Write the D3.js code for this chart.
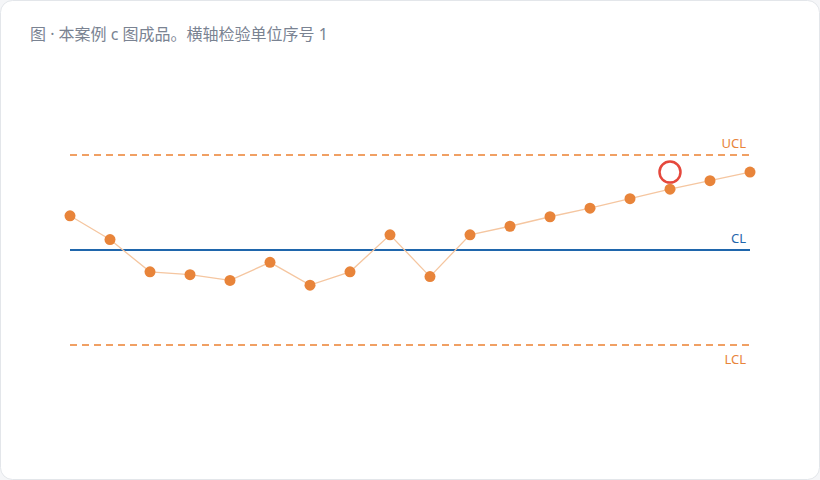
<!DOCTYPE html>
<html>
<head>
<meta charset="utf-8">
<script src="https://cdn.jsdelivr.net/npm/d3@7"></script>
<style>
	html, body { margin: 0; padding: 0; background: #f5f6f8; }
	#chart { width: 820px; height: 480px; }
</style>
</head>
<body>
<div id="chart"></div>
<script>
// c 图数据：检验单位序号与缺陷数
const samples = [1, 2, 3, 4, 5, 6, 7, 8, 9, 10, 11, 12, 13, 14, 15, 16, 17, 18];
const counts = [23.6, 21.1, 17.7, 17.4, 16.8, 18.7, 16.3, 17.7, 21.6, 17.2, 21.6, 22.5, 23.5, 24.4, 25.4, 26.4, 27.3, 28.2];
const limitNames = ['UCL', 'CL', 'LCL'];
const limitValues = [30, 20, 10];
// 判异标记（第 16 点）
const flagSample = [16];
const flagValue = [28.2];

const titleText = '图 · 本案例 c 图成品。横轴检验单位序号 1';

const width = 820;
const height = 480;
const margin = { top: 155, right: 70, bottom: 135, left: 70 };

const svg = d3
	.select('#chart')
	.append('svg')
	.attr('width', width)
	.attr('height', height)
	.style('font-family', '"Noto Sans", "Noto Sans CJK SC", sans-serif');

// card
svg
	.append('rect')
	.attr('x', 0.5)
	.attr('y', 0.5)
	.attr('width', width - 1)
	.attr('height', height - 1)
	.attr('rx', 12)
	.style('fill', '#ffffff')
	.style('stroke', '#e3e6ea');

svg
	.append('text')
	.attr('x', 30)
	.attr('y', 40)
	.style('font-size', '16px')
	.style('fill', '#7a8392')
	.text(titleText);

const xScale = d3.scalePoint().domain(samples).range([ margin.left, width - margin.right ]);
const yScale = d3.scaleLinear().domain([ limitValues[2], limitValues[0] ]).range([ height - margin.bottom, margin.top ]);

const x0 = xScale(samples[0]);
const x1 = xScale(samples[samples.length - 1]);

// control limits
const limits = limitNames.map((name, i) => ({ name: name, value: limitValues[i] }));

svg
	.selectAll('.limit')
	.data(limits)
	.enter()
	.append('line')
	.attr('class', 'limit')
	.attr('x1', x0)
	.attr('x2', x1)
	.attr('y1', (d) => yScale(d.value))
	.attr('y2', (d) => yScale(d.value))
	.style('stroke', (d) => (d.name === 'CL' ? '#1f66ac' : '#f0a064'))
	.style('stroke-width', 2)
	.style('stroke-dasharray', (d) => (d.name === 'CL' ? null : '7, 5'));

svg
	.selectAll('.limit-label')
	.data(limits)
	.enter()
	.append('text')
	.attr('class', 'limit-label')
	.attr('x', x1 - 4)
	.attr('y', (d) => yScale(d.value))
	.attr('dy', (d) => (d.name === 'LCL' ? '1.45em' : '-0.55em'))
	.attr('text-anchor', 'end')
	.style('font-size', '13px')
	.style('fill', (d) => (d.name === 'CL' ? '#1f66ac' : '#e8843a'))
	.text((d) => d.name);

const points = samples.map((s, i) => ({ sample: s, value: counts[i] }));

const line = d3.line().x((d) => xScale(d.sample)).y((d) => yScale(d.value));

svg
	.append('path')
	.datum(points)
	.attr('d', line)
	.style('fill', 'none')
	.style('stroke', '#f5c6a0')
	.style('stroke-width', 1.3);

svg
	.selectAll('.dot')
	.data(points)
	.enter()
	.append('circle')
	.attr('class', 'dot')
	.attr('cx', (d) => xScale(d.sample))
	.attr('cy', (d) => yScale(d.value))
	.attr('r', 5.5)
	.style('fill', '#e8843a');

svg
	.selectAll('.flag')
	.data(flagSample.map((s, i) => ({ sample: s, value: flagValue[i] })))
	.enter()
	.append('circle')
	.attr('class', 'flag')
	.attr('cx', (d) => xScale(d.sample))
	.attr('cy', (d) => yScale(d.value))
	.attr('r', 10.5)
	.style('fill', 'none')
	.style('stroke', '#e5483c')
	.style('stroke-width', 2.5);
</script>
</body>
</html>
